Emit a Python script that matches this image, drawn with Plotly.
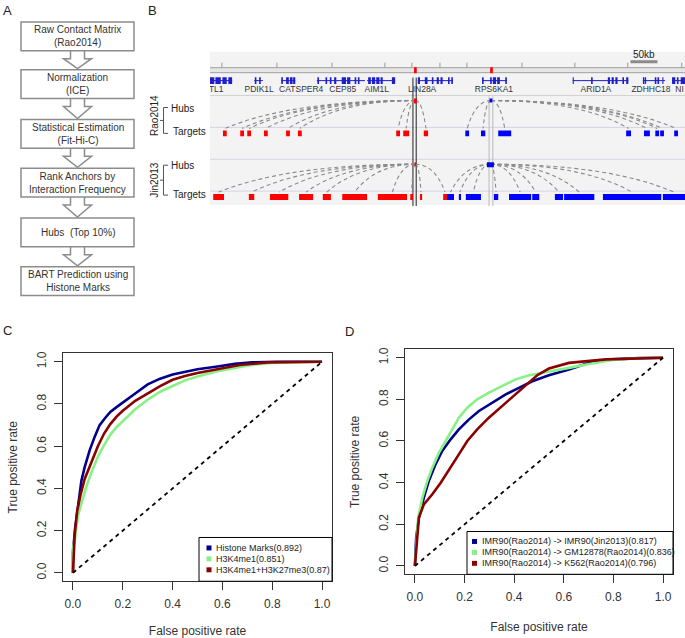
import plotly.graph_objects as go

W, H = 685, 638
FONT = "Liberation Sans, Arial, Helvetica, sans-serif"
TXT = "#333333"


def fx(p):
    return p / W


def fy(p):
    return 1 - p / H


# ---------------- Panel A: workflow steps ----------------
flow_steps = [
    "Raw Contact Matrix<br>(Rao2014)",
    "Normalization<br>(ICE)",
    "Statistical Estimation<br>(Fit-Hi-C)",
    "Rank Anchors by<br>Interaction Frequency",
    "Hubs  (Top 10%)",
    "BART Prediction using<br>Histone Marks",
]

# ---------------- Panel B: genome browser data (kb) ----------------
gene_names = ["EXTL1", "PDIK1L", "CATSPER4", "CEP85", "AIM1L",
              "LIN28A", "RPS6KA1", "ARID1A", "ZDHHC18", "NI"]
gene_start = [-30, 82, 132, 198, 291, 385, 504, 672, 802, 856]
gene_end = [41, 98, 158, 287, 343, 450, 550, 775, 843, 920]
gene_label_kb = [1, 91, 169, 246, 309, 393, 526, 715, 817, 870]
gene_exons = [
    [(-25, -15), (0, 8), (10, 20), (23, 31), (34, 41)],
    [(83, 86), (91, 94)],
    [(132, 135), (141, 146), (148, 153), (154, 158)],
    [(199, 202), (214, 217), (222, 225), (230, 234), (244, 252), (254, 260), (268, 271), (274, 277)],
    [(293, 298), (300, 306), (308, 314), (316, 320), (337, 343)],
    [(385, 389), (398, 403), (411, 414), (420, 424), (427, 431), (441, 444), (447, 450)],
    [(504, 507), (519, 522), (524, 530), (532, 537), (547, 550)],
    [(672, 674), (706, 709), (737, 741), (744, 748), (751, 755), (764, 767), (771, 775)],
    [(802, 805), (806, 808), (824, 827), (829, 832), (838, 840)],
    [(856, 862), (865, 868), (872, 880)],
]
ruler_ticks_kb = [22, 124, 226, 324, 374, 426, 476, 578, 676, 774, 874]
scale_bar_start_kb = 779
scale_bar_len_kb = 50
anchor_regions = [(376, 382), (517, 524)]          # highlighted anchors
anchor_marks = [(378, 383), (519, 524)]            # red marks on the chromosome line

# hubs: LIN28A (red) and RPS6KA1 (blue)
rao_hub_start = [378, 518]
rao_hub_end = [383, 523]
jin_hub_start = [379, 513]
jin_hub_end = [382, 526]

rao_red_start = [24, 56, 69, 100, 141, 163, 345, 358, 396]
rao_red_end = [31, 63, 76, 107, 148, 170, 352, 369, 404]
rao_blue_start = [473, 502, 534, 771, 804, 825, 834, 860]
rao_blue_end = [480, 510, 558, 780, 815, 832, 841, 867]

jin_red_start = [6, 72, 111, 165, 209, 245, 311, 371, 389, 432]
jin_red_end = [26, 82, 145, 191, 224, 291, 365, 376, 393, 439]
jin_blue_start = [439, 461, 474, 526, 554, 597, 639, 656, 728, 839]
jin_blue_end = [452, 465, 502, 534, 595, 610, 654, 712, 836, 880]

# ---------------- Panel C: ROC curves ----------------
c_names = ["Histone Marks", "H3K4me1", "H3K4me1+H3K27me3"]
c_auc = [0.892, 0.851, 0.87]
c_fpr_hist = [0, 0, 0.009, 0.023, 0.034, 0.047, 0.067, 0.087, 0.107, 0.13, 0.15, 0.175,
              0.2, 0.25, 0.3, 0.35, 0.4, 0.45, 0.5, 0.58, 0.65, 0.72, 0.82, 1.0]
c_tpr_hist = [0, 0.10, 0.214, 0.341, 0.437, 0.501, 0.580, 0.644, 0.700, 0.735, 0.762, 0.785,
              0.808, 0.850, 0.893, 0.920, 0.940, 0.953, 0.965, 0.978, 0.990, 0.997, 1.0, 1.0]
c_fpr_k4 = [0, 0, 0.007, 0.02, 0.034, 0.054, 0.074, 0.1, 0.125, 0.15, 0.175, 0.2, 0.25,
            0.3, 0.35, 0.4, 0.45, 0.5, 0.58, 0.71, 0.8, 0.91, 1.0]
c_tpr_k4 = [0, 0.12, 0.15, 0.27, 0.33, 0.41, 0.475, 0.55, 0.605, 0.655, 0.69, 0.72, 0.775,
            0.82, 0.858, 0.885, 0.912, 0.93, 0.955, 0.984, 0.994, 0.998, 1.0]
c_fpr_k4k27 = [0, 0.007, 0.017, 0.031, 0.047, 0.067, 0.085, 0.1, 0.125, 0.15, 0.175, 0.2,
               0.25, 0.3, 0.35, 0.4, 0.45, 0.5, 0.58, 0.67, 0.78, 1.0]
c_tpr_k4k27 = [0, 0.182, 0.293, 0.373, 0.445, 0.505, 0.56, 0.60, 0.66, 0.705, 0.74, 0.768,
               0.815, 0.85, 0.885, 0.915, 0.933, 0.947, 0.965, 0.985, 0.997, 1.0]

# ---------------- Panel D: ROC curves ----------------
d_names = ["IMR90(Rao2014) -> IMR90(Jin2013)",
           "IMR90(Rao2014) -> GM12878(Rao2014)",
           "IMR90(Rao2014) -> K562(Rao2014)"]
d_auc = [0.817, 0.836, 0.796]
d_fpr_jin = [0, 0.005, 0.016, 0.036, 0.056, 0.083, 0.110, 0.144, 0.177, 0.218, 0.258,
             0.312, 0.366, 0.419, 0.473, 0.540, 0.621, 0.702, 0.796, 0.903, 1.0]
d_tpr_jin = [0, 0.136, 0.232, 0.328, 0.408, 0.488, 0.552, 0.608, 0.656, 0.704, 0.744,
             0.784, 0.824, 0.855, 0.887, 0.916, 0.943, 0.976, 0.992, 0.998, 1.0]
d_fpr_gm = [0, 0.005, 0.013, 0.030, 0.050, 0.070, 0.097, 0.124, 0.150, 0.177, 0.211,
            0.251, 0.298, 0.352, 0.406, 0.460, 0.540, 0.621, 0.702, 0.796, 0.903, 1.0]
d_tpr_gm = [0, 0.104, 0.232, 0.328, 0.408, 0.472, 0.544, 0.600, 0.656, 0.712, 0.760,
            0.800, 0.832, 0.864, 0.896, 0.916, 0.932, 0.951, 0.970, 0.989, 0.997, 1.0]
d_fpr_k562 = [0, 0.005, 0.016, 0.036, 0.070, 0.104, 0.137, 0.177, 0.211, 0.251, 0.298,
              0.352, 0.406, 0.453, 0.493, 0.540, 0.594, 0.621, 0.769, 0.903, 1.0]
d_tpr_k562 = [0, 0.088, 0.232, 0.296, 0.344, 0.400, 0.464, 0.536, 0.600, 0.656, 0.712,
              0.768, 0.824, 0.872, 0.916, 0.948, 0.967, 0.975, 0.992, 0.998, 1.0]

COL_BLUE = "#00008B"
COL_GREEN = "#86F286"
COL_RED = "#8B0000"
ticks = [0, 0.2, 0.4, 0.6, 0.8, 1.0]
tick_text = ["0.0", "0.2", "0.4", "0.6", "0.8", "1.0"]

fig = go.Figure()
shapes = []
annotations = []

# ================= Panel C & D traces =================
for xs, ys, col in [(c_fpr_hist, c_tpr_hist, COL_BLUE), (c_fpr_k4, c_tpr_k4, COL_GREEN),
                    (c_fpr_k4k27, c_tpr_k4k27, COL_RED)]:
    fig.add_trace(go.Scatter(x=xs, y=ys, mode="lines", line=dict(color=col, width=2.6),
                             xaxis="x", yaxis="y", showlegend=False, hoverinfo="skip"))
fig.add_trace(go.Scatter(x=[0, 1], y=[0, 1], mode="lines",
                         line=dict(color="black", width=1.8, dash="4px,4px"),
                         xaxis="x", yaxis="y", showlegend=False, hoverinfo="skip"))

for xs, ys, col in [(d_fpr_jin, d_tpr_jin, COL_BLUE), (d_fpr_gm, d_tpr_gm, COL_GREEN),
                    (d_fpr_k562, d_tpr_k562, COL_RED)]:
    fig.add_trace(go.Scatter(x=xs, y=ys, mode="lines", line=dict(color=col, width=2.6),
                             xaxis="x2", yaxis="y2", showlegend=False, hoverinfo="skip"))
fig.add_trace(go.Scatter(x=[0, 1], y=[0, 1], mode="lines",
                         line=dict(color="black", width=1.8, dash="4px,4px"),
                         xaxis="x2", yaxis="y2", showlegend=False, hoverinfo="skip"))


def manual_legend(box, mark_x, text_x, rows, names, aucs, cols, fsize):
    x0, y0, x1, y1 = box
    shapes.append(dict(type="rect", xref="paper", yref="paper", x0=fx(x0), x1=fx(x1),
                       y0=fy(y0), y1=fy(y1), line=dict(color="black", width=1),
                       fillcolor="white", layer="above"))
    for r, n, a, c in zip(rows, names, aucs, cols):
        shapes.append(dict(type="rect", xref="paper", yref="paper",
                           x0=fx(mark_x - 2.5), x1=fx(mark_x + 2.5),
                           y0=fy(r - 2.5), y1=fy(r + 2.5), line=dict(width=0),
                           fillcolor=c, layer="above"))
        annotations.append(dict(xref="paper", yref="paper", x=fx(text_x), y=fy(r),
                                xanchor="left", yanchor="middle", showarrow=False,
                                text=f"{n}({a})", font=dict(size=fsize, color="#222")))


manual_legend((199, 538, 332, 582), 209, 214, [548.5, 559.5, 570.5], c_names, c_auc,
              [COL_BLUE, COL_GREEN, COL_RED], 9)
manual_legend((467, 532, 673, 575), 474.5, 480, [542, 553, 564], d_names, d_auc,
              [COL_BLUE, COL_GREEN, COL_RED], 9)

# ================= Panel A =================
box_tops = [20, 68, 118, 167, 217, 266]
box_h = 29
bx0, bx1 = 21, 134
cx = 77.5
for i, (top, label) in enumerate(zip(box_tops, flow_steps)):
    shapes.append(dict(type="rect", xref="paper", yref="paper", x0=fx(bx0), x1=fx(bx1),
                       y0=fy(top), y1=fy(top + box_h), line=dict(color="#8c8c8c", width=1.5),
                       fillcolor="white"))
    annotations.append(dict(xref="paper", yref="paper", x=fx(cx), y=fy(top + box_h / 2),
                            text=label, showarrow=False, font=dict(size=10, color=TXT),
                            xanchor="center", yanchor="middle"))
    if i < len(box_tops) - 1:
        yb = top + box_h
        yt = box_tops[i + 1]
        ym = yb + 8
        pts = [(cx - 7, yb), (cx - 7, ym), (cx - 14, ym), (cx, yt - 1), (cx + 14, ym),
               (cx + 7, ym), (cx + 7, yb)]
        path = "M " + " L ".join(f"{fx(px)},{fy(py)}" for px, py in pts)
        shapes.append(dict(type="path", xref="paper", yref="paper", path=path,
                           line=dict(color="#8c8c8c", width=1.5)))

# panel letters
for letter, (px, py) in zip("ABCD", [(7, 9), (152, 9), (7.5, 330), (349, 331.5)]):
    annotations.append(dict(xref="paper", yref="paper", x=fx(px), y=fy(py), text=letter,
                            showarrow=False, font=dict(size=13, color="#222"),
                            xanchor="center", yanchor="middle"))

# ================= Panel B =================
BX0, BX1, BY0, BY1 = 210, 685, 48, 205
shapes.append(dict(type="rect", xref="paper", yref="paper", x0=fx(BX0), x1=fx(BX1),
                   y0=fy(50), y1=fy(204), line=dict(width=0), fillcolor="#F3F3F3",
                   layer="below"))

XR, YR = "x3", "y3"


def rect(x0, x1, y0, y1, color, layer="above", line=None):
    shapes.append(dict(type="rect", xref=XR, yref=YR, x0=x0, x1=x1, y0=y0, y1=y1,
                       fillcolor=color, line=line or dict(width=0), layer=layer))


def hline(y, color, width=1):
    shapes.append(dict(type="line", xref=XR, yref=YR, x0=-50, x1=950, y0=y, y1=y,
                       line=dict(color=color, width=width)))


# ruler
for t in ruler_ticks_kb:
    shapes.append(dict(type="line", xref=XR, yref=YR, x0=t, x1=t, y0=61, y1=66,
                       line=dict(color="#999999", width=1)))
rect(-50, 950, 66, 71, "#E6E6E6", line=dict(color="#A0A0A0", width=1))
for s, e in anchor_marks:
    rect(s, e, 65.5, 71.5, "#FF0000")
shapes.append(dict(type="line", xref=XR, yref=YR, x0=scale_bar_start_kb,
                   x1=scale_bar_start_kb + scale_bar_len_kb, y0=60, y1=60,
                   line=dict(color="#8a8a8a", width=3)))

# row separators
hline(94, "#D0D0D0")
hline(126, "#D4D4E6")
hline(158, "#D4D4E6")
hline(190, "#D4D4E6")

# genes
GENE_COL = "#1E1ECC"
for s, e, exons in zip(gene_start, gene_end, gene_exons):
    shapes.append(dict(type="line", xref=XR, yref=YR, x0=s, x1=e, y0=79, y1=79,
                       line=dict(color=GENE_COL, width=1)))
    for es, ee in exons:
        rect(es, ee, 75.5, 82.5, GENE_COL)
fig.add_trace(go.Scatter(x=gene_label_kb, y=[88.5] * len(gene_names), text=gene_names,
                         mode="text", textfont=dict(size=8.5, color=TXT, family=FONT),
                         xaxis="x3", yaxis="y3", cliponaxis=True, showlegend=False,
                         hoverinfo="skip"))

# highlighted anchor lines
for s, e in anchor_regions[:1]:
    for v in (s, e):
        shapes.append(dict(type="line", xref=XR, yref=YR, x0=v, x1=v, y0=76, y1=205,
                           line=dict(color="#222222", width=1)))
for s, e in anchor_regions[1:]:
    for v in (s, e):
        shapes.append(dict(type="line", xref=XR, yref=YR, x0=v, x1=v, y0=95, y1=205,
                           line=dict(color="#BBBBBB", width=1)))

ARC_COL = "#8A8A8A"


def arcs(hub_s, hub_e, hub_y, starts, ends, end_y):
    hx = (hub_s + hub_e) / 2
    for s, e in zip(starts, ends):
        tx = (s + e) / 2
        qx = tx + 0.35 * (hx - tx)
        shapes.append(dict(type="path", xref=XR, yref=YR,
                           path=f"M {hx},{hub_y} Q {qx},{hub_y} {tx},{end_y}",
                           line=dict(color=ARC_COL, width=1.1, dash="4px,3px")))


# Rao2014 track
arcs(rao_hub_start[0], rao_hub_end[0], 99, rao_red_start, rao_red_end, 127)
arcs(rao_hub_start[1], rao_hub_end[1], 99, rao_blue_start, rao_blue_end, 127)
rect(rao_hub_start[0], rao_hub_end[0], 97, 102, "#FF0000")
rect(rao_hub_start[1], rao_hub_end[1], 97, 101, "#0000FF")
for s, e in zip(rao_red_start, rao_red_end):
    rect(s, e, 129, 135, "#FF0000")
for s, e in zip(rao_blue_start, rao_blue_end):
    rect(s, e, 129, 135, "#0000FF")

# Jin2013 track
arcs(jin_hub_start[0], jin_hub_end[0], 163, jin_red_start, jin_red_end, 191)
arcs(jin_hub_start[1], jin_hub_end[1], 163, jin_blue_start, jin_blue_end, 191)
rect(jin_hub_start[0], jin_hub_end[0], 161, 165, "#FF0000")
rect(jin_hub_start[1], jin_hub_end[1], 161, 166, "#0000FF")
for s, e in zip(jin_red_start, jin_red_end):
    rect(s, e, 193, 199, "#FF0000")
for s, e in zip(jin_blue_start, jin_blue_end):
    rect(s, e, 193, 199, "#0000FF")

annotations.append(dict(xref="paper", yref="paper", x=fx(643.5), y=fy(53), text="50kb",
                        showarrow=False, font=dict(size=10, color="#222"),
                        xanchor="center", yanchor="middle"))

for name, cy, top, bot, hub_y, tgt_y in [("Rao2014", 114, 106, 132, 107, 130),
                                           ("Jin2013", 179, 164, 194, 164, 193)]:
    annotations.append(dict(xref="paper", yref="paper", x=fx(154.5), y=fy(cy), text=name,
                            textangle=-90, showarrow=False,
                            font=dict(size=10, color="#222"),
                            xanchor="center", yanchor="middle"))
    mid = (top + bot) / 2
    pts = f"M {fx(168)},{fy(top)} L {fx(163.5)},{fy(top)} L {fx(163.5)},{fy(bot)} L {fx(168)},{fy(bot)} " \
          f"M {fx(163.5)},{fy(mid)} L {fx(160)},{fy(mid)}"
    shapes.append(dict(type="path", xref="paper", yref="paper", path=pts,
                       line=dict(color="#555555", width=1)))
    annotations.append(dict(xref="paper", yref="paper", x=fx(169), y=fy(hub_y), text="Hubs",
                            showarrow=False, font=dict(size=10, color="#222"),
                            xanchor="left", yanchor="middle"))
    annotations.append(dict(xref="paper", yref="paper", x=fx(170.5), y=fy(tgt_y),
                            text="Targets", showarrow=False,
                            font=dict(size=10, color="#222"),
                            xanchor="left", yanchor="middle"))

# ================= Axes =================
axis_common = dict(range=[-0.04, 1.04], tickvals=ticks, ticktext=tick_text, ticks="outside",
                   ticklen=8, tickwidth=1, tickcolor="#333", showline=True, mirror=True,
                   linecolor="#333", linewidth=1, showgrid=False, zeroline=False,
                   ticklabelstandoff=3,
                   tickfont=dict(size=12, color=TXT, family=FONT), fixedrange=True)

layout_axes = dict(
    xaxis=dict(axis_common, domain=[fx(63), fx(332)], anchor="y",
               title=dict(text="False positive rate", font=dict(size=12, color=TXT), standoff=19)),
    yaxis=dict(axis_common, domain=[fy(582), fy(353)], anchor="x", tickangle=-90,
               title=dict(text="True positive rate", font=dict(size=12, color=TXT), standoff=14)),
    xaxis2=dict(axis_common, domain=[fx(405), fx(673)], anchor="y2",
                title=dict(text="False positive rate", font=dict(size=12, color=TXT), standoff=19)),
    yaxis2=dict(axis_common, domain=[fy(575), fy(349)], anchor="x2", tickangle=-90,
                title=dict(text="True positive rate", font=dict(size=12, color=TXT), standoff=14)),
    xaxis3=dict(domain=[fx(BX0), fx(BX1)], range=[0, 880], anchor="y3", visible=False,
                fixedrange=True),
    yaxis3=dict(domain=[fy(BY1), fy(BY0)], range=[BY1, BY0], anchor="x3", visible=False,
                fixedrange=True),
)

fig.update_layout(
    width=W, height=H, margin=dict(l=0, r=0, t=0, b=0),
    paper_bgcolor="white", plot_bgcolor="rgba(0,0,0,0)",
    font=dict(family=FONT, color=TXT),
    shapes=shapes, annotations=annotations, showlegend=False,
    **layout_axes,
)

fig.write_html("out.html", config={"displayModeBar": False},
               post_script="document.body.style.margin='0';document.body.style.overflow='hidden';")
